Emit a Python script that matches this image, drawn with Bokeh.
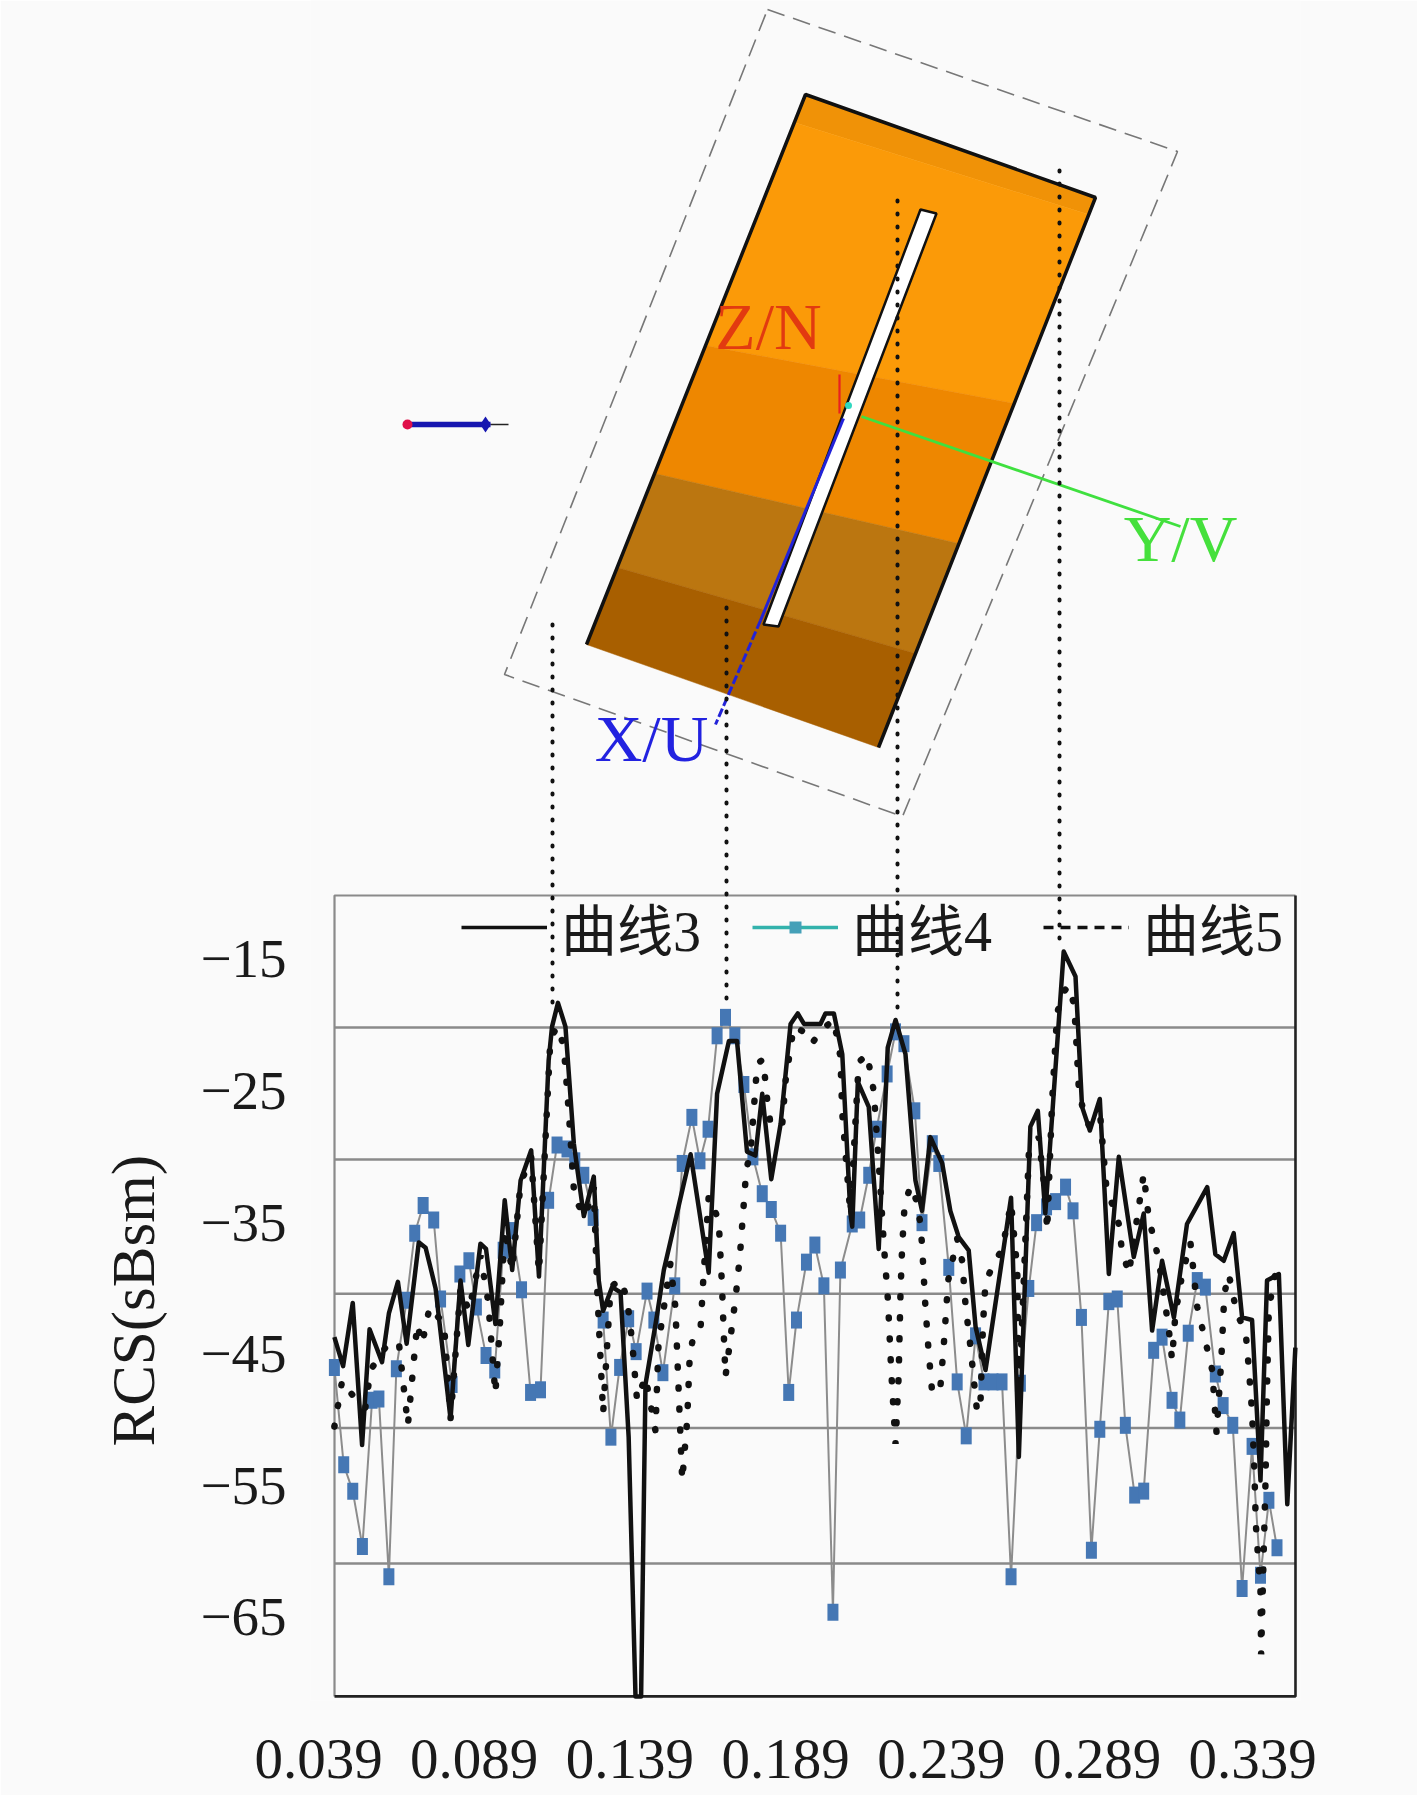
from bokeh.plotting import figure
from bokeh.models import Range1d, FixedTicker, NumeralTickFormatter, Legend, LegendItem, Title
from bokeh.core.properties import value
from bokeh.embed import file_html
from bokeh.resources import INLINE

# ---------- chart data ----------
x_ticks = [0.039, 0.089, 0.139, 0.189, 0.239, 0.289, 0.339]
y_ticks = [-15, -25, -35, -45, -55, -65]
y_tick_labels = ["\u221215", "\u221225", "\u221235", "\u221245", "\u221255", "\u221265"]
grid_y = [-20.17, -30.2, -40.4, -50.6, -60.9]
box_x = [0.04414, 0.35274]
box_y = [-10.14, -71.0]

c3_x = [.0441,.0469,.0500,.0530,.0554,.0594,.0616,.0645,.0673,.0712,.0734,.0766,.0814,.0846,.0871,.0910,.0928,.0958,.0988,.1012,.1039,.1073,.1098,.1129,.1140,.1159,.1183,.1210,.1242,.1274,.1290,.1304,.1333,.1360,.1386,.1408,.1426,.1440,.1478,.1499,.1585,.1643,.1670,.1708,.1734,.1766,.1793,.1815,.1844,.1874,.1906,.1929,.1949,.2002,
        .2018,.2045,.2072,.2098,.2104,.2122,.2157,.2189,.2218,.2243,.2275,.2307,.2328,.2355,.2393,.2419,.2446,.2478,.2500,.2532,.2580,.2614,.2639,.2676,.2700,.2724,.2783,.2821,.2842,.2867,.2899,.2928,.2960,.3008,.3040,.3067,.3099,.3137,.3179,.3244,.3270,.3297,.3329,.3356,.3388,.3415,.3436,.3474,.3501,.3527]
c3_y = [-43.7,-45.9,-41.1,-51.9,-43.1,-45.6,-41.9,-39.5,-44.2,-36.5,-36.9,-40,-49.9,-39.4,-44.3,-36.6,-37,-42.7,-33.3,-38.6,-31.8,-29.5,-39.1,-22.7,-20.1,-18.3,-20.1,-29,-34.5,-31.5,-39.4,-41.7,-39.9,-40.3,-51.3,-71,-71,-47.3,-41.9,-38.6,-29.8,-38.8,-25.2,-21.2,-21.2,-29.6,-29.9,-25.2,-31.7,-27.5,-19.9,-19.1,-19.9,-19.9,
        -19.1,-19.1,-22.2,-34.3,-35.3,-24.3,-26.2,-37,-21.7,-19.6,-22.2,-31.8,-34.1,-28.5,-30.5,-34.1,-36.1,-37.1,-42.9,-46.2,-38.6,-33.1,-52.8,-27.7,-26.5,-34.3,-14.4,-16.3,-26.2,-28,-25.6,-38.9,-30,-37.6,-34.3,-43.2,-37.9,-42.2,-35.1,-32.3,-37.4,-37.9,-35.8,-42.2,-42.4,-54.6,-39.4,-38.9,-56.4,-44.5]

c4_x = [.0441,.0471,.0500,.0531,.0562,.0584,.0616,.0640,.0673,.0699,.0726,.0760,.0782,.0819,.0844,.0873,.0897,.0928,.0956,.0983,.1012,.1042,.1071,.1103,.1129,.1156,.1188,.1213,.1242,.1272,.1304,.1329,.1357,.1386,.1410,.1445,.1467,.1496,.1534,.1558,.1589,.1615,.1641,.1670,.1697,.1727,.1756,.1785,.1815,.1844,.1874,.1900,.1925,.1957,.1984,
        .2013,.2042,.2066,.2104,.2128,.2157,.2182,.2216,.2243,.2270,.2305,.2328,.2361,.2382,.2414,.2441,.2470,.2500,.2527,.2556,.2585,.2614,.2644,.2671,.2696,.2728,.2757,.2789,.2813,.2840,.2872,.2899,.2928,.2955,.2981,.3011,.3040,.3072,.3099,.3131,.3156,.3183,.3212,.3238,.3270,.3295,.3326,.3356,.3388,.3415,.3442,.3468]
c4_y = [-46,-53.4,-55.4,-59.6,-48.5,-48.4,-61.9,-46.1,-40.9,-35.8,-33.7,-34.8,-40.8,-47.3,-38.9,-37.9,-41.4,-45.1,-46.2,-37.1,-35.6,-40.1,-47.9,-47.7,-33.3,-29.1,-29.4,-30.3,-31.4,-34.6,-42.4,-51.3,-46,-42.3,-44.8,-40.2,-42.4,-46.4,-39.8,-30.5,-27,-30.3,-27.9,-20.8,-19.4,-20.8,-24.5,-30,-32.8,-34,-35.8,-47.9,-42.4,-38,-36.7,
        -39.8,-64.6,-38.6,-35.1,-34.8,-31.4,-27.9,-23.7,-20.5,-21.4,-26.5,-35,-29,-30.5,-38.4,-47.1,-51.2,-43.6,-47.1,-47.1,-47.1,-61.9,-47.2,-40,-35,-33.8,-33.4,-32.3,-34.1,-42.2,-59.9,-50.7,-41,-40.8,-50.4,-55.7,-55.4,-44.7,-43.7,-48.5,-50,-43.4,-39.4,-39.9,-46.5,-48.9,-50.4,-62.8,-52,-61.8,-56.1,-59.7]

c5_x = [.0441,.0466,.0520,.0535,.0557,.0610,.0648,.0677,.0707,.0723,.0747,.0793,.0814,.0846,.0873,.0910,.0935,.0958,.0972,.0988,.1012,.1039,.1073,.1098,.1135,.1159,.1178,.1194,.1212,.1247,.1274,.1285,.1304,.1328,.1360,.1381,.1397,.1413,.1440,.1472,.1482,.1520,.1536,.1547,.1558,.1574,.1582,.1593,.1617,.1625,.1643,.1675,.1686,.1691,.1697,.1729,.1743,.1754,.1764,.1777,.1799,.1818,.1831,.1842,.1879,.1890,.1916,.1949,.1975,
        .2002,.2045,.2066,.2072,.2098,.2125,.2152,.2173,.2193,.2205,.2219,.2229,.2243,.2253,.2259,.2264,.2272,.2291,.2310,.2321,.2328,.2339,.2349,.2361,.2387,.2398,.2412,.2441,.2457,.2468,.2484,.2505,.2516,.2524,.2532,.2559,.2586,.2614,.2634,.2639,.2671,.2703,.2724,.2730,.2746,.2762,.2778,.2799,.2816,.2821,.2832,.2848,.2869,.2901,.2920,.2942,.2960,.2969,.2992,.3040,.3056,.3088,.3120,.3131,.3142,.3163,.3190,.3212,.3244,.3260,.3274,.3289,.3299,.3313,.3340,.3367,.3378,.3388,.3396,.3400,.3406,.3415,.3417,.3431,.3436,.3442,.3458,.3463]
c5_y = [-50.5,-47,-48.8,-50,-46.2,-44.3,-44.1,-50.4,-42.7,-44.2,-41.4,-42.7,-49.9,-40,-41.7,-37.5,-41,-48,-43,-35.5,-38.6,-32,-30,-38.8,-20.9,-20.1,-21.7,-26.7,-33.2,-34.5,-32.3,-40.1,-49.5,-39.9,-39.3,-40.8,-44,-48.5,-46.7,-50.8,-44.2,-38.1,-41.4,-48,-54.6,-50,-45.2,-43.7,-43,-39.6,-33,-34.8,-39.9,-43.2,-46.7,-40.8,-37.6,-34.1,-30.9,-29.8,-22.9,-22.6,-25.7,-27.6,-27.6,-24.2,-20.1,-20.5,-21.4,
        -20.4,-19.6,-22.4,-26.7,-34.3,-22.8,-22.2,-25,-31.8,-36.5,-41,-46.2,-51.8,-46.7,-40.3,-37,-33.7,-32.2,-33.3,-34.8,-36.6,-41.4,-44.7,-48,-47.5,-44.3,-39.4,-36.2,-37.9,-41.3,-44.5,-49.4,-48.5,-42.7,-39.5,-38.1,-37,-33.5,-38.6,-48.8,-29.8,-28.5,-33,-35.6,-25.7,-19.1,-17.6,-17,-18.4,-20.1,-25,-26.7,-27.9,-27.1,-32.3,-33.8,-35.1,-36.9,-38.9,-31.3,-34.6,-37.8,-43,-45.4,-41.9,-39,-36.5,-41.4,-44.6,-46.2,-51,-45.5,-40.4,-38.9,-42,-43.2,-46.2,-49.4,-54.3,-57.9,-60,-63,-67.8,-54.8,-47.5,-41.5,-39.4,-38.9]

series_names = ["\u66f2\u7ebf3", "\u66f2\u7ebf4", "\u66f2\u7ebf5"]
y_axis_title = "RCS(sBsm)"

# ---------- upper model drawing (picture coordinates) ----------
band_xs = [[805,1095,1088,794],[794,1088,1014,705],[705,1014,958,654],[654,958,915,617],[617,915,878,586]]
band_ys = [[94,197,214,122],[122,214,403,345],[345,403,543,473],[473,543,653,567],[567,653,747,644]]
band_colors = ["#f09207", "#fb9a08", "#ee8700", "#bb7610", "#a85f00"]
plate_edge_x = [586, 805, 1095, 878]
plate_edge_y = [644, 94, 197, 747]
outer_x = [767, 1177, 902, 504, 767]
outer_y = [9, 151, 816, 674, 9]
slot_x = [920, 936, 778, 763]
slot_y = [209, 213, 626, 624]
guide_x = [552, 726, 897, 1059]
guide_top = [624, 607, 200, 170]
guide_bottom = [1002, 1007, 1013, 950]
label_text = ["Z/N", "Y/V", "X/U"]
label_x = [768, 1180, 651]
label_y = [326, 538, 738]
label_color = ["#e23a10", "#45e03c", "#2222e0"]

fig_w, fig_h = 1417, 1795
p = figure(width=fig_w, height=fig_h, output_backend="svg", toolbar_location=None,
           x_range=Range1d(0.03643, 0.35435), y_range=Range1d(-71.31, 57.87),
           min_border_left=310, min_border_right=117, min_border_top=0, min_border_bottom=95,
           background_fill_color="#fafafa", border_fill_color="#fafafa", outline_line_color=None)
p.extra_x_ranges = {"px": Range1d(310, 1300)}
p.extra_y_ranges = {"px": Range1d(1700, 0)}
p.grid.visible = False

# axes
xa = p.xaxis[0]
xa.ticker = FixedTicker(ticks=x_ticks)
xa.formatter = NumeralTickFormatter(format="0.000")
xa.axis_line_color = None
xa.major_tick_line_color = None
xa.minor_tick_line_color = None
xa.major_label_standoff = 33
xa.major_label_text_font = "Liberation Serif"
xa.major_label_text_font_size = "57px"
xa.major_label_text_color = "#1a1a1a"

ya = p.yaxis[0]
ya.ticker = FixedTicker(ticks=y_ticks)
ya.major_label_overrides = dict(zip(y_ticks, y_tick_labels))
ya.axis_line_color = None
ya.major_tick_line_color = None
ya.minor_tick_line_color = None
ya.major_label_standoff = 18
ya.major_label_text_font = "Liberation Serif"
ya.major_label_text_font_size = "55px"
ya.major_label_text_color = "#1a1a1a"

p.add_layout(Title(text=y_axis_title, align="left", offset=254, standoff=61,
                   text_font="Liberation Serif", text_font_style="normal", text_font_size="61px", text_color="#1a1a1a"), "left")

# picture
for xs, ys, c in zip(band_xs, band_ys, band_colors):
    p.patch(xs, ys, fill_color=c, line_color=c, line_width=0.5, x_range_name="px", y_range_name="px")
p.line(plate_edge_x, plate_edge_y, line_color="#111111", line_width=3.5, x_range_name="px", y_range_name="px")
p.line(outer_x, outer_y, line_color="#777777", line_width=1.6, line_dash="18 9", x_range_name="px", y_range_name="px")
p.patch(slot_x, slot_y, fill_color="#ffffff", line_color="#111111", line_width=2.5, x_range_name="px", y_range_name="px")
p.line([843, 760], [418, 620], line_color="#2222d8", line_width=3, x_range_name="px", y_range_name="px")
p.line([760, 715], [620, 724], line_color="#2222d8", line_width=3, line_dash="9 3", x_range_name="px", y_range_name="px")
p.line([861, 1180], [416, 526], line_color="#3fe03f", line_width=2.8, x_range_name="px", y_range_name="px")
p.line([839, 839], [374, 413], line_color="#e82020", line_width=2.2, x_range_name="px", y_range_name="px")
p.scatter([848], [405], marker="circle", size=7, fill_color="#30d8c0", line_color=None, x_range_name="px", y_range_name="px")
p.line([403, 490], [424, 424], line_color="#1616b0", line_width=5.5, x_range_name="px", y_range_name="px")
p.line([490, 508], [424, 424], line_color="#222222", line_width=1.5, x_range_name="px", y_range_name="px")
p.scatter([485], [424], marker="diamond", size=16, fill_color="#1616b0", line_color=None, x_range_name="px", y_range_name="px")
p.scatter([407], [424], marker="circle", size=10, fill_color="#e0104a", line_color=None, x_range_name="px", y_range_name="px")
p.text(label_x, label_y, text=label_text, text_color=label_color, text_font=value("Liberation Serif"),
       text_font_size="66px", text_align="center", text_baseline="middle", x_range_name="px", y_range_name="px")

# grid and frame
p.segment([box_x[0]] * len(grid_y), grid_y, [box_x[1]] * len(grid_y), grid_y, line_color="#8a8a8a", line_width=2.6)
p.line([box_x[0], box_x[0], box_x[1]], [box_y[1], box_y[0], box_y[0]], line_color="#8a8a8a", line_width=2.2)
p.line([box_x[0], box_x[1], box_x[1]], [box_y[1], box_y[1], box_y[0]], line_color="#222222", line_width=2.6)

# curves
line4 = p.line(c4_x, c4_y, line_color="#8c8c8c", line_width=2)
p.rect(c4_x, c4_y, width=11, height=17, width_units="screen", height_units="screen",
       fill_color="#4577b4", line_color=None)
line5 = p.line(c5_x, c5_y, line_color="#111111", line_width=6.5, line_dash="1 20", line_cap="round")
line3 = p.line(c3_x, c3_y, line_color="#111111", line_width=4.5, line_join="round")

# vertical guides
for gx, g0, g1 in zip(guide_x, guide_top, guide_bottom):
    p.line([gx, gx], [g0, g1], line_color="#111111", line_width=4, line_dash="1 12", line_cap="round",
           x_range_name="px", y_range_name="px")

# legend keys (drawn outside the visible range, used only by the legend)
key_y = [-200, -200]
key3 = p.line(box_x, key_y, line_color="#111111", line_width=3.5)
key4 = p.line(box_x, key_y, line_color="#33b2ac", line_width=3.5)
key4m = p.scatter(box_x, key_y, marker="square", size=12, fill_color="#45a0b8", line_color=None)
key5 = p.line(box_x, key_y, line_color="#111111", line_width=3.5, line_dash="10 7")
legend = Legend(items=[LegendItem(label=series_names[0], renderers=[key3]),
                       LegendItem(label=series_names[1], renderers=[key4, key4m]),
                       LegendItem(label=series_names[2], renderers=[key5])],
                orientation="horizontal", location=(151, 733), padding=0, margin=0, spacing=51,
                glyph_width=86, glyph_height=30, label_standoff=14,
                background_fill_alpha=0, border_line_color=None,
                label_text_font="Liberation Serif, Noto Sans CJK SC", label_text_font_size="56px",
                label_text_color="#1a1a1a")
p.add_layout(legend)

open("out.html", "w").write(file_html(p, INLINE))
